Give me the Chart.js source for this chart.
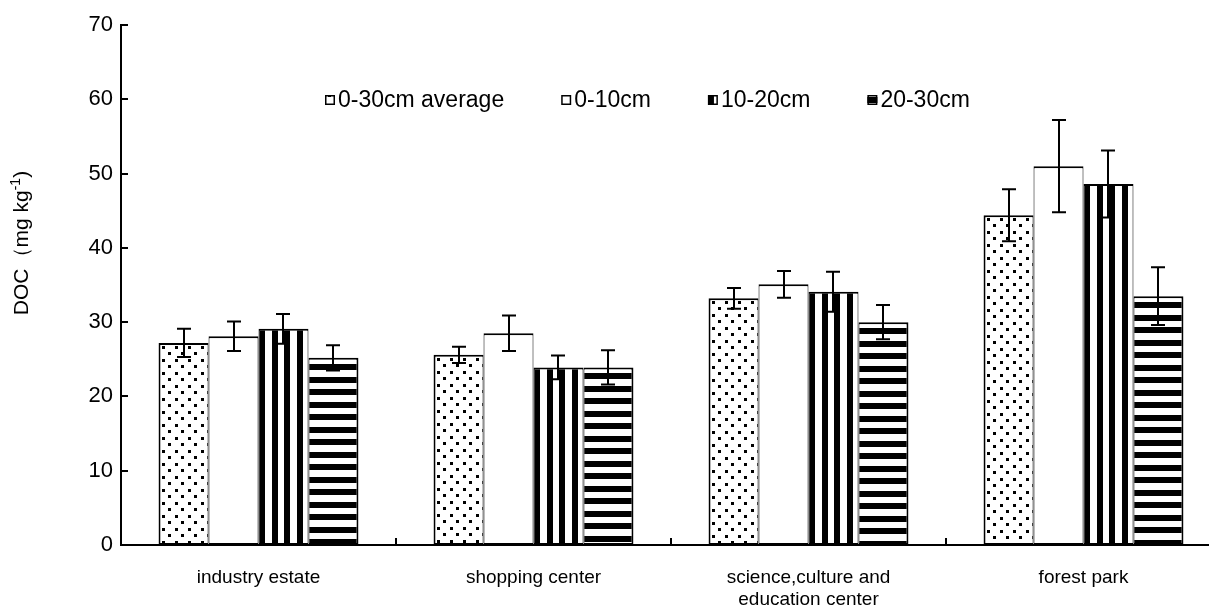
<!DOCTYPE html>
<html>
<head>
<meta charset="utf-8">
<script src="https://cdn.jsdelivr.net/npm/chart.js@4.4.1/dist/chart.umd.min.js"></script>
<style>
  html, body { margin: 0; padding: 0; background: #fff; overflow: hidden; }
  #wrap { position: absolute; left: 0; top: 0; width: 1230px; height: 612px; }
</style>
</head>
<body>
<div id="wrap"><canvas id="c"></canvas></div>
<script>
// ---- data ----
const categories = ['industry estate', 'shopping center', ['science,culture and', 'education center'], 'forest park'];
const seriesNames = ['0-30cm average', '0-10cm', '10-20cm', '20-30cm'];

const avg0to30      = [27.2, 25.6, 33.2, 44.4];
const avg0to30Err   = [1.9, 1.1, 1.4, 3.5];
const depth0to10    = [28.1, 28.5, 35.1, 51.0];
const depth0to10Err = [2.0, 2.4, 1.8, 6.2];
const depth10to20    = [29.1, 23.9, 34.1, 48.6];
const depth10to20Err = [2.0, 1.6, 2.7, 4.5];
const depth20to30    = [25.2, 23.9, 30.0, 33.5];
const depth20to30Err = [1.7, 2.3, 2.3, 3.9];

const yTicks = [0, 10, 20, 30, 40, 50, 60, 70];

// ---- styling ----
const FONT = "'Liberation Sans', Arial, sans-serif";
const CAT_PCT = 0.727;
const seriesValues = [avg0to30, depth0to10, depth10to20, depth20to30];
const seriesErrors = [avg0to30Err, depth0to10Err, depth10to20Err, depth20to30Err];
const fillKinds = ['dots', 'plain', 'vstripes', 'hstripes'];

function makeTile(w, h, draw) {
  const c = document.createElement('canvas');
  c.width = w; c.height = h;
  const g = c.getContext('2d');
  g.fillStyle = '#fff'; g.fillRect(0, 0, w, h);
  g.fillStyle = '#000';
  draw(g);
  return c;
}
const tiles = {
  dots: makeTile(13, 13, g => { g.fillRect(3, 3, 3, 3); g.fillRect(9, 9, 3, 3); }),
  plain: makeTile(4, 4, () => {}),
  vstripes: makeTile(25, 4, g => { g.fillRect(0, 0, 6, 4); g.fillRect(13, 0, 6, 4); }),
  hstripes: makeTile(4, 25, g => { g.fillRect(0, 6, 4, 6); g.fillRect(0, 19, 4, 6); })
};

// pattern fill anchored to each bar's top-left corner
function barFill(kind) {
  return c => {
    const chart = c.chart;
    const xs = chart.scales.x, ys = chart.scales.y;
    if (c.type !== 'data' || !xs || !ys) return '#fff';
    const pat = chart.ctx.createPattern(tiles[kind], 'repeat');
    const groupW = xs.width / categories.length * CAT_PCT;
    const barW = groupW / seriesNames.length;
    const left = xs.getPixelForValue(c.dataIndex) - groupW / 2 + c.datasetIndex * barW;
    const top = ys.getPixelForValue(c.raw);
    pat.setTransform(new DOMMatrix([1, 0, 0, 1, Math.round(left), Math.round(top)]));
    return pat;
  };
}

// error bars
const errorBars = {
  id: 'errorBars',
  afterDatasetsDraw(chart) {
    const ctx = chart.ctx, ys = chart.scales.y;
    ctx.save();
    ctx.strokeStyle = '#000';
    ctx.lineWidth = 2;
    chart.data.datasets.forEach((ds, i) => {
      chart.getDatasetMeta(i).data.forEach((bar, j) => {
        const v = ds.data[j], e = ds.errors[j];
        const x = Math.round(bar.x);
        const y1 = ys.getPixelForValue(v + e), y2 = ys.getPixelForValue(v - e);
        ctx.beginPath();
        ctx.moveTo(x, y1); ctx.lineTo(x, y2);
        ctx.moveTo(x - 7, y1); ctx.lineTo(x + 7, y1);
        ctx.moveTo(x - 7, y2); ctx.lineTo(x + 7, y2);
        ctx.stroke();
      });
    });
    ctx.restore();
  }
};

// inward tick marks, y title and legend
const decorations = {
  id: 'decorations',
  afterDraw(chart) {
    const ctx = chart.ctx, xs = chart.scales.x, ys = chart.scales.y;
    const area = chart.chartArea;
    ctx.save();
    ctx.strokeStyle = '#000';
    ctx.lineWidth = 2;
    ctx.beginPath();
    ys.ticks.forEach(t => {
      const y = Math.round(ys.getPixelForValue(t.value));
      ctx.moveTo(area.left, y); ctx.lineTo(area.left + 7, y);
    });
    const half = xs.width / categories.length / 2;
    for (let i = 1; i < categories.length; i++) {
      const x = Math.round(xs.getPixelForValue(i) - half);
      ctx.moveTo(x, area.bottom); ctx.lineTo(x, area.bottom - 7);
    }
    ctx.stroke();

    // y axis title
    ctx.fillStyle = '#000';
    ctx.translate(22, 243);
    ctx.rotate(-Math.PI / 2);
    ctx.textBaseline = 'middle';
    const main = 'DOC\uFF08mg kg', sup = '-1', tail = ')';
    ctx.font = `21px ${FONT}`;
    const wMain = ctx.measureText(main).width, wTail = ctx.measureText(tail).width;
    ctx.font = `14px ${FONT}`;
    const wSup = ctx.measureText(sup).width;
    let x = -(wMain + wSup + wTail) / 2;
    ctx.font = `21px ${FONT}`;
    ctx.fillText(main, x, 0); x += wMain;
    ctx.font = `14px ${FONT}`;
    ctx.fillText(sup, x, -6); x += wSup;
    ctx.font = `21px ${FONT}`;
    ctx.fillText(tail, x, 0);
    ctx.setTransform(1, 0, 0, 1, 0, 0);

    // legend
    ctx.font = `23px ${FONT}`;
    ctx.textBaseline = 'middle';
    let lx = 325;
    const ly = 100, s = 10;
    chart.data.datasets.forEach((ds, i) => {
      const pat = ctx.createPattern(tiles[fillKinds[i]], 'repeat');
      pat.setTransform(new DOMMatrix([1, 0, 0, 1, lx, ly - s / 2 - 4]));
      ctx.fillStyle = pat;
      ctx.fillRect(lx, ly - s / 2, s, s);
      ctx.lineWidth = 1.5;
      ctx.strokeRect(lx + 0.75, ly - s / 2 + 0.75, s - 1.5, s - 1.5);
      ctx.fillStyle = '#000';
      ctx.fillText(ds.label, lx + s + 3, ly + 1);
      lx += s + 3 + ctx.measureText(ds.label).width + 57;
    });
    ctx.restore();
  }
};

new Chart(document.getElementById('c'), {
  type: 'bar',
  data: {
    labels: categories,
    datasets: seriesNames.map((name, i) => ({
      label: name,
      data: seriesValues[i],
      errors: seriesErrors[i],
      backgroundColor: barFill(fillKinds[i]),
      borderColor: '#000',
      borderWidth: { top: 2, bottom: 2, left: i === 0 ? 2 : 1, right: i === seriesNames.length - 1 ? 2 : 1 },
      borderSkipped: false,
      categoryPercentage: CAT_PCT,
      barPercentage: 1.0
    }))
  },
  options: {
    responsive: true,
    maintainAspectRatio: false,
    animation: false,
    layout: { padding: { left: 0, right: 9, top: 25, bottom: 0 } },
    plugins: { legend: { display: false }, tooltip: { enabled: false } },
    scales: {
      x: {
        grid: { display: false, drawTicks: false },
        border: { display: true, color: '#000', width: 2 },
        ticks: { color: '#000', font: { family: FONT, size: 19 }, padding: 21, maxRotation: 0, autoSkip: false },
        afterFit: s => { s.height = 67; }
      },
      y: {
        min: 0, max: 70,
        afterBuildTicks: s => { s.ticks = yTicks.map(v => ({ value: v })); },
        grid: { display: false, drawTicks: false },
        border: { display: true, color: '#000', width: 2 },
        ticks: { color: '#000', font: { family: FONT, size: 22 }, padding: 8 },
        afterFit: s => { s.width = 121; }
      }
    }
  },
  plugins: [errorBars, decorations]
});
</script>
</body>
</html>
